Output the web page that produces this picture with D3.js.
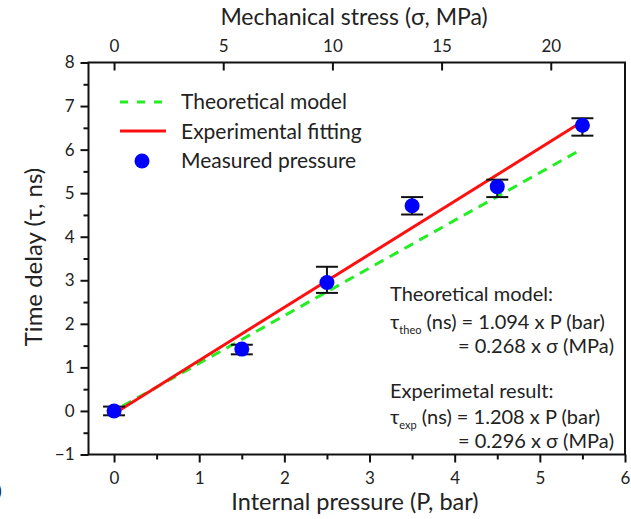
<!DOCTYPE html>
<html><head><meta charset="utf-8">
<script src="https://cdn.jsdelivr.net/npm/d3@7"></script>
<style>
body{margin:0;background:#fff;}
text{font-family:Lato,"Open Sans",sans-serif;fill:#222;}
</style></head>
<body><svg id="c" width="631" height="519"></svg>
<script>
// data
const pressure = [0, 1.5, 2.5, 3.5, 4.5, 5.5];
const delay = [0.0, 1.42, 2.95, 4.71, 5.15, 6.56];
const errLow = [-0.1, 1.30, 2.71, 4.51, 4.91, 6.32];
const errHigh = [0.1, 1.52, 3.31, 4.91, 5.31, 6.72];
const theoSlope = 1.094;
const expSlope = 1.208;
const theoLine = [[0.1, 0.1 * theoSlope], [5.5, 5.5 * theoSlope]];
const expLine = [[0.05, 0.05 * expSlope - 0.06], [5.5, 5.5 * expSlope]];
const xTicks = [0, 1, 2, 3, 4, 5, 6];
const sigmaTicks = [0, 5, 10, 15, 20];
const yTicks = [-1, 0, 1, 2, 3, 4, 5, 6, 7, 8];
const legendLabels = ["Theoretical model", "Experimental fitting", "Measured pressure"];

const FONT = "Lato,'Open Sans',sans-serif";
const svg = d3.select("#c");
const L = 88.5, R = 625, T = 62.5, B = 454.5;
const x = d3.scaleLinear().domain([-0.3, 6]).range([L, R]);
const xs = d3.scaleLinear().domain([-0.3 * 3.9, 6 * 3.9]).range([L, R]);
const y = d3.scaleLinear().domain([-1, 8]).range([B, T]);

// frame
svg.append("rect").attr("x", L).attr("y", T).attr("width", R - L).attr("height", B - T)
  .attr("fill", "none").attr("stroke", "#111").attr("stroke-width", 2);

function styleAxis(g, size) {
  g.select(".domain").remove();
  g.selectAll(".tick line").attr("stroke", "#111").attr("stroke-width", 2);
  g.selectAll(".tick text").style("font-size", size + "px").style("font-family", FONT).attr("fill", "#222");
}
// bottom axis
const gb = svg.append("g").attr("transform", `translate(0,${B})`)
  .call(d3.axisBottom(x).tickValues(xTicks).tickSize(8).tickPadding(9).tickFormat(d3.format("d")));
styleAxis(gb, 17);
const gbm = svg.append("g").attr("transform", `translate(0,${B})`)
  .call(d3.axisBottom(x).tickValues(d3.range(-0.5, 6, 1).filter(v => v > -0.3)).tickSize(5).tickFormat(""));
styleAxis(gbm, 17);
// left axis
const gl = svg.append("g").attr("transform", `translate(${L},0)`)
  .call(d3.axisLeft(y).tickValues(yTicks).tickSize(8).tickPadding(6).tickFormat(d3.format("d")));
styleAxis(gl, 17);
const glm = svg.append("g").attr("transform", `translate(${L},0)`)
  .call(d3.axisLeft(y).tickValues(d3.range(-0.5, 8, 1)).tickSize(5).tickFormat(""));
styleAxis(glm, 17);
// top axis (ticks inward)
const gt = svg.append("g").attr("transform", `translate(0,${T})`)
  .call(d3.axisTop(xs).tickValues(sigmaTicks).tickSize(-8).tickPadding(11).tickFormat(d3.format("d")));
styleAxis(gt, 17);

// axis titles
svg.append("text").attr("x", 354).attr("y", 25).attr("text-anchor", "middle")
  .style("font-size", "23px").text("Mechanical stress (σ, MPa)");
svg.append("text").attr("x", 355).attr("y", 510).attr("text-anchor", "middle")
  .style("font-size", "23.5px").text("Internal pressure (P, bar)");
svg.append("text").attr("transform", "translate(42,257) rotate(-90)").attr("text-anchor", "middle")
  .style("font-size", "24px").text("Time delay (τ, ns)");
svg.append("text").attr("x", -3).attr("y", 497).style("font-size", "18px").text(")");

// lines
const line = d3.line().x(d => x(d[0])).y(d => y(d[1]));
svg.append("path").datum(theoLine).attr("d", line).attr("fill", "none")
  .attr("stroke", "#22ee22").attr("stroke-width", 3).attr("stroke-dasharray", "10,7");
svg.append("path").datum(expLine).attr("d", line).attr("fill", "none")
  .attr("stroke", "#ff1010").attr("stroke-width", 3);

// error bars
const eb = svg.append("g");
pressure.forEach((p, i) => {
  eb.append("line").attr("x1", x(p)).attr("x2", x(p)).attr("y1", y(errLow[i])).attr("y2", y(errHigh[i]))
    .attr("stroke", "#111").attr("stroke-width", 2);
  [errLow[i], errHigh[i]].forEach(v => eb.append("line").attr("x1", x(p) - 11).attr("x2", x(p) + 11)
    .attr("y1", y(v)).attr("y2", y(v)).attr("stroke", "#111").attr("stroke-width", 2));
});
svg.append("g").selectAll("circle").data(pressure).join("circle")
  .attr("cx", d => x(d)).attr("cy", (d, i) => y(delay[i])).attr("r", 7.5).attr("fill", "#0000ff");

// legend
const lg = svg.append("g");
lg.append("line").attr("x1", 120).attr("x2", 166).attr("y1", 102).attr("y2", 102)
  .attr("stroke", "#22ee22").attr("stroke-width", 3).attr("stroke-dasharray", "8,9");
lg.append("line").attr("x1", 120).attr("x2", 166).attr("y1", 131).attr("y2", 131)
  .attr("stroke", "#ff1010").attr("stroke-width", 3);
lg.append("circle").attr("cx", 142).attr("cy", 161).attr("r", 7.5).attr("fill", "#0000ff");
legendLabels.forEach((t, i) => lg.append("text").attr("x", 181).attr("y", 109 + i * 29.5)
  .style("font-size", "21px").text(t));

// annotation
const ann = svg.append("g").style("font-size", "20px");
ann.append("text").attr("x", 390).attr("y", 301).text("Theoretical model:");
const t1 = ann.append("text").attr("x", 390).attr("y", 329);
t1.append("tspan").text("τ");
t1.append("tspan").attr("dy", 5).style("font-size", "11px").text("theo");
t1.append("tspan").attr("dy", -5).text(" (ns) = 1.094 x P (bar)");
ann.append("text").attr("x", 614).attr("y", 353).attr("text-anchor", "end").text("= 0.268 x σ (MPa)");
ann.append("text").attr("x", 390).attr("y", 398).text("Experimetal result:");
const t2 = ann.append("text").attr("x", 390).attr("y", 424);
t2.append("tspan").text("τ");
t2.append("tspan").attr("dy", 5).style("font-size", "11px").text("exp");
t2.append("tspan").attr("dy", -5).text(" (ns) = 1.208 x P (bar)");
ann.append("text").attr("x", 614).attr("y", 448).attr("text-anchor", "end").text("= 0.296 x σ (MPa)");
</script></body></html>
